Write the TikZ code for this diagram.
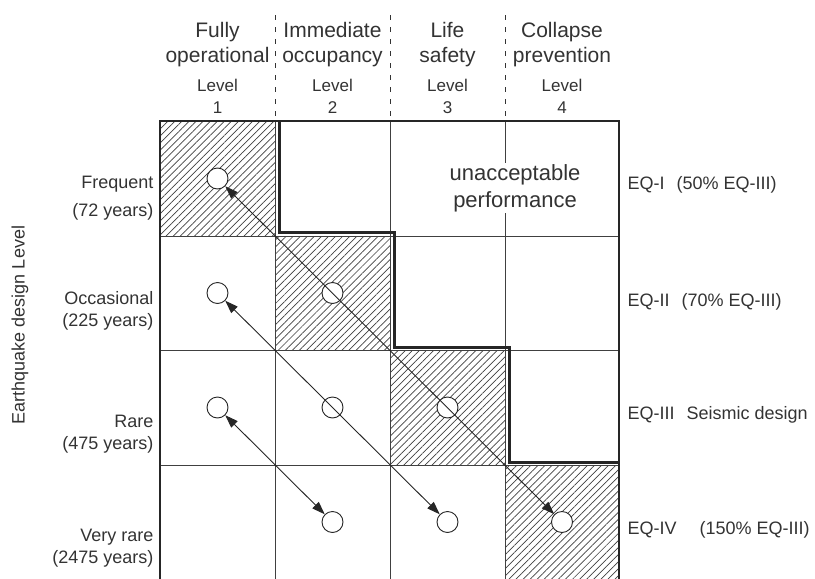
\documentclass[tikz,border=0pt]{standalone}
\usepackage{fontspec}
\setmainfont{Liberation Sans}
\usetikzlibrary{patterns.meta,arrows.meta}
\begin{document}
\begin{tikzpicture}[x=1pt,y=-1pt,
  thinline/.style={line width=0.9pt, draw=black!75},
  frame/.style={line width=2.4pt, draw=black!85},
  stair/.style={line width=3pt, draw=black!85},
  hatch/.style={pattern={Lines[angle=45,distance=5pt,line width=0.7pt]}, pattern color=black!75},
  pnt/.style={circle, draw=black!85, fill=white, line width=0.9pt, minimum size=21pt, inner sep=0pt},
  arr/.style={draw=black!85, line width=0.9pt, {Triangle[length=13pt,width=9pt]}-{Triangle[length=13pt,width=9pt]}},
  hdr/.style={align=center, font=\fontsize{21}{25}\selectfont, text=black!80},
  lvl/.style={align=center, font=\fontsize{17}{22}\selectfont, text=black!80},
  rowlab/.style={align=right, anchor=east, font=\fontsize{18}{22}\selectfont, text=black!80},
  eqlab/.style={anchor=west, font=\fontsize{18}{22}\selectfont, text=black!80},
  dashline/.style={draw=black!80, line width=0.9pt, dash pattern=on 5pt off 7pt}]
\useasboundingbox (0,0) rectangle (815,579);
% hatched cells
\fill[hatch] (160,121) rectangle (275,236);
\fill[hatch] (275,236) rectangle (390,350);
\fill[hatch] (390,350) rectangle (505,465);
\fill[hatch] (505,465) rectangle (619,579);
% grid
\foreach \x in {275,390,505} \draw[thinline] (\x,121) -- (\x,579);
\foreach \y in {236,350,465} \draw[thinline] (160,\y) -- (619,\y);
% frame
\draw[frame] (160,579) -- (160,121) -- (619,121) -- (619,579);
% staircase boundary
\draw[stair] (279,121) -- (279,232) -- (394,232) -- (394,347) -- (509,347) -- (509,462) -- (619,462);
% header dashed separators
\foreach \x in {275,390,505} \draw[dashline] (\x,15) -- (\x,121);
% headers
\node[hdr] (h1) at (217.5,44.5) {Fully\\operational};
\node[hdr] (h2) at (332.5,44.5) {Immediate\\occupancy};
\node[hdr] (h3) at (447.5,44.5) {Life\\safety};
\node[hdr] (h4) at (562,44.5) {Collapse\\prevention};
\node[lvl] (l1) at (217.5,96) {Level\\1};
\node[lvl] (l2) at (332.5,96) {Level\\2};
\node[lvl] (l3) at (447.5,96) {Level\\3};
\node[lvl] (l4) at (562,96) {Level\\4};
% unacceptable
\node[fill=white, inner sep=1pt, align=center, font=\fontsize{22}{27}\selectfont, text=black!80] (ua) at (515,188) {unacceptable\\performance};
% row labels
\node[rowlab] (r1) at (157,198) {Frequent\\[6pt](72 years)};
\node[rowlab] (r2) at (157,310.5) {Occasional\\(225 years)};
\node[rowlab] (r3) at (157,434) {Rare\\(475 years)};
\node[rowlab] (r4) at (157,548) {Very rare\\(2475 years)};
\node[rotate=90, font=\fontsize{18}{22}\selectfont, text=black!80] (ax) at (20,325) {Earthquake design Level};
% right labels
\node[eqlab] (e1) at (624,185) {EQ-I\hspace{7pt} (50\% EQ-III)};
\node[eqlab] (e2) at (624,302) {EQ-II\hspace{7pt} (70\% EQ-III)};
\node[eqlab] (e3) at (624,415) {EQ-III\hspace{7pt} Seismic design};
\node[eqlab] (e4) at (624,530) {EQ-IV\hspace{18pt} (150\% EQ-III)};
% points
\node[pnt] (c11) at (217.5,178.5) {};
\node[pnt] (c21) at (217.5,293) {};
\node[pnt] (c22) at (332.5,293) {};
\node[pnt] (c31) at (217.5,407.5) {};
\node[pnt] (c32) at (332.5,407.5) {};
\node[pnt] (c33) at (447.5,407.5) {};
\node[pnt] (c42) at (332.5,522) {};
\node[pnt] (c43) at (447.5,522) {};
\node[pnt] (c44) at (562,522) {};
% arrows
\draw[arr] (c11) -- (c44);
\draw[arr] (c21) -- (c43);
\draw[arr] (c31) -- (c42);
\end{tikzpicture}
\end{document}
